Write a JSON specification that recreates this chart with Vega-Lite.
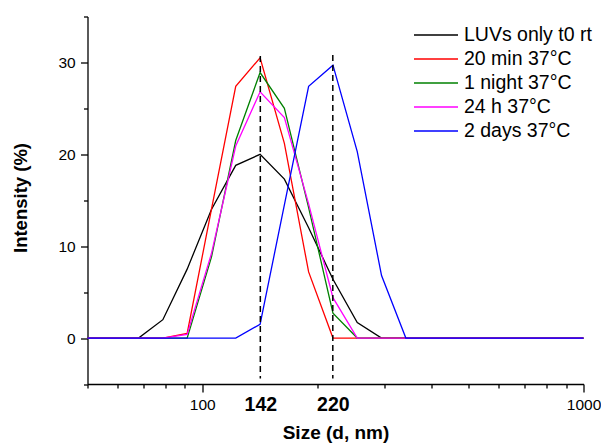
{
  "$schema": "https://vega.github.io/schema/vega-lite/v6.json",
  "autosize": {"type": "none"},
  "width": 496,
  "height": 367.5,
  "padding": {"left": 87.5, "top": 16.5, "right": 17.5, "bottom": 59},
  "background": "white",
  "config": {
    "view": {"stroke": null},
    "font": "Liberation Sans",
    "axis": {
      "grid": false,
      "domainColor": "black",
      "domainWidth": 1.3,
      "tickColor": "black",
      "tickWidth": 1.3,
      "labelColor": "black",
      "labelFont": "Liberation Sans",
      "titleColor": "black",
      "titleFont": "Liberation Sans",
      "titleFontWeight": "bold",
      "labelOverlap": false,
      "labelFlush": false,
      "labelBound": false
    }
  },
  "datasets": {
    "dls": [
      {"size": 43.82, "LUVs only t0 rt": 0, "20 min 37°C": 0, "1 night 37°C": 0, "24 h 37°C": 0, "2 days 37°C": 0},
      {"size": 50.75, "LUVs only t0 rt": 0, "20 min 37°C": 0, "1 night 37°C": 0, "24 h 37°C": 0, "2 days 37°C": 0},
      {"size": 58.77, "LUVs only t0 rt": 0, "20 min 37°C": 0, "1 night 37°C": 0, "24 h 37°C": 0, "2 days 37°C": 0},
      {"size": 68.06, "LUVs only t0 rt": 0, "20 min 37°C": 0, "1 night 37°C": 0, "24 h 37°C": 0, "2 days 37°C": 0},
      {"size": 78.82, "LUVs only t0 rt": 2.0, "20 min 37°C": 0, "1 night 37°C": 0, "24 h 37°C": 0, "2 days 37°C": 0},
      {"size": 91.28, "LUVs only t0 rt": 7.5, "20 min 37°C": 0.5, "1 night 37°C": 0, "24 h 37°C": 0.4, "2 days 37°C": 0},
      {"size": 105.7, "LUVs only t0 rt": 14.0, "20 min 37°C": 14.0, "1 night 37°C": 8.8, "24 h 37°C": 9.2, "2 days 37°C": 0},
      {"size": 122.4, "LUVs only t0 rt": 18.8, "20 min 37°C": 27.4, "1 night 37°C": 21.5, "24 h 37°C": 20.9, "2 days 37°C": 0},
      {"size": 141.8, "LUVs only t0 rt": 20.0, "20 min 37°C": 30.5, "1 night 37°C": 28.9, "24 h 37°C": 26.8, "2 days 37°C": 1.5},
      {"size": 164.2, "LUVs only t0 rt": 17.3, "20 min 37°C": 21.2, "1 night 37°C": 25.0, "24 h 37°C": 24.0, "2 days 37°C": 14.5},
      {"size": 190.1, "LUVs only t0 rt": 12.0, "20 min 37°C": 7.2, "1 night 37°C": 14.2, "24 h 37°C": 14.6, "2 days 37°C": 27.4},
      {"size": 220.2, "LUVs only t0 rt": 6.4, "20 min 37°C": 0, "1 night 37°C": 2.7, "24 h 37°C": 4.4, "2 days 37°C": 29.7},
      {"size": 255.0, "LUVs only t0 rt": 1.7, "20 min 37°C": 0, "1 night 37°C": 0, "24 h 37°C": 0, "2 days 37°C": 20.3},
      {"size": 295.3, "LUVs only t0 rt": 0, "20 min 37°C": 0, "1 night 37°C": 0, "24 h 37°C": 0, "2 days 37°C": 6.8},
      {"size": 342.0, "LUVs only t0 rt": 0, "20 min 37°C": 0, "1 night 37°C": 0, "24 h 37°C": 0, "2 days 37°C": 0},
      {"size": 396.1, "LUVs only t0 rt": 0, "20 min 37°C": 0, "1 night 37°C": 0, "24 h 37°C": 0, "2 days 37°C": 0},
      {"size": 458.7, "LUVs only t0 rt": 0, "20 min 37°C": 0, "1 night 37°C": 0, "24 h 37°C": 0, "2 days 37°C": 0},
      {"size": 531.2, "LUVs only t0 rt": 0, "20 min 37°C": 0, "1 night 37°C": 0, "24 h 37°C": 0, "2 days 37°C": 0},
      {"size": 615.1, "LUVs only t0 rt": 0, "20 min 37°C": 0, "1 night 37°C": 0, "24 h 37°C": 0, "2 days 37°C": 0},
      {"size": 712.4, "LUVs only t0 rt": 0, "20 min 37°C": 0, "1 night 37°C": 0, "24 h 37°C": 0, "2 days 37°C": 0},
      {"size": 825.0, "LUVs only t0 rt": 0, "20 min 37°C": 0, "1 night 37°C": 0, "24 h 37°C": 0, "2 days 37°C": 0},
      {"size": 955.4, "LUVs only t0 rt": 0, "20 min 37°C": 0, "1 night 37°C": 0, "24 h 37°C": 0, "2 days 37°C": 0},
      {"size": 1106, "LUVs only t0 rt": 0, "20 min 37°C": 0, "1 night 37°C": 0, "24 h 37°C": 0, "2 days 37°C": 0}
    ],
    "peaks": [
      {"size": 142, "top": 30.7, "bottom": -4.4},
      {"size": 220, "top": 30.8, "bottom": -4.4}
    ]
  },
  "layer": [
    {
      "data": {"name": "dls"},
      "transform": [
        {"fold": ["LUVs only t0 rt", "20 min 37°C", "1 night 37°C", "24 h 37°C", "2 days 37°C"], "as": ["sample", "intensity"]}
      ],
      "mark": {"type": "line", "strokeWidth": 1.3, "clip": true},
      "encoding": {
        "x": {
          "field": "size",
          "type": "quantitative",
          "scale": {"type": "log", "domain": [50, 1000], "nice": false},
          "axis": {
            "title": "Size (d, nm)",
            "titleFontSize": 19,
            "titleBaseline": "alphabetic",
            "titleY": 54.5,
            "values": [50, 60, 70, 80, 90, 100, 142, 200, 220, 300, 400, 500, 600, 700, 800, 900, 1000],
            "labelExpr": "datum.value == 100 || datum.value == 142 || datum.value == 220 || datum.value == 1000 ? '' + datum.value : ''",
            "labelFontSize": {"condition": {"test": "datum.value == 142 || datum.value == 220", "value": 19.5}, "value": 15.5},
            "labelFontWeight": {"condition": {"test": "datum.value == 142 || datum.value == 220", "value": "bold"}, "value": "normal"},
            "labelBaseline": "middle",
            "labelPadding": 12.2,
            "tickSize": {"condition": {"test": "datum.value == 100 || datum.value == 142 || datum.value == 220 || datum.value == 1000", "value": 8}, "value": 4},
            "tickOpacity": {"condition": {"test": "datum.value == 142 || datum.value == 220", "value": 0}, "value": 1}
          }
        },
        "y": {
          "field": "intensity",
          "type": "quantitative",
          "scale": {"domain": [-5, 35], "nice": false, "zero": false},
          "axis": {
            "title": "Intensity (%)",
            "titleFontSize": 18.5,
            "titleAngle": 270,
            "titleAlign": "center",
            "titleBaseline": "alphabetic",
            "titleX": -61.5,
            "titleY": 181,
            "values": [-5, 0, 5, 10, 15, 20, 25, 30, 35],
            "labelExpr": "datum.value >= 0 && datum.value % 10 == 0 ? datum.label : ''",
            "labelFontSize": 15.5,
            "labelPadding": 5.3,
            "tickSize": {"condition": {"test": "datum.value % 10 == 0", "value": 7}, "value": 4}
          }
        },
        "color": {
          "field": "sample",
          "type": "nominal",
          "scale": {
            "domain": ["LUVs only t0 rt", "20 min 37°C", "1 night 37°C", "24 h 37°C", "2 days 37°C"],
            "range": ["#000000", "#ff0000", "#008000", "#ff00ff", "#0000ff"]
          },
          "legend": {
            "title": null,
            "orient": "none",
            "legendX": 325.5,
            "legendY": 6.5,
            "padding": 0,
            "symbolType": "stroke",
            "symbolSize": 1936,
            "symbolStrokeWidth": 1.5,
            "clipHeight": 24,
            "rowPadding": 0,
            "labelOffset": 5,
            "labelFontSize": 19.5,
            "labelFont": "Liberation Sans",
            "labelColor": "black",
            "labelLimit": 300
          }
        }
      }
    },
    {
      "data": {"name": "peaks"},
      "mark": {"type": "rule", "color": "black", "strokeWidth": 1.5, "strokeDash": [6, 4]},
      "encoding": {
        "x": {"field": "size", "type": "quantitative"},
        "y": {"field": "top", "type": "quantitative"},
        "y2": {"field": "bottom"}
      }
    }
  ]
}
